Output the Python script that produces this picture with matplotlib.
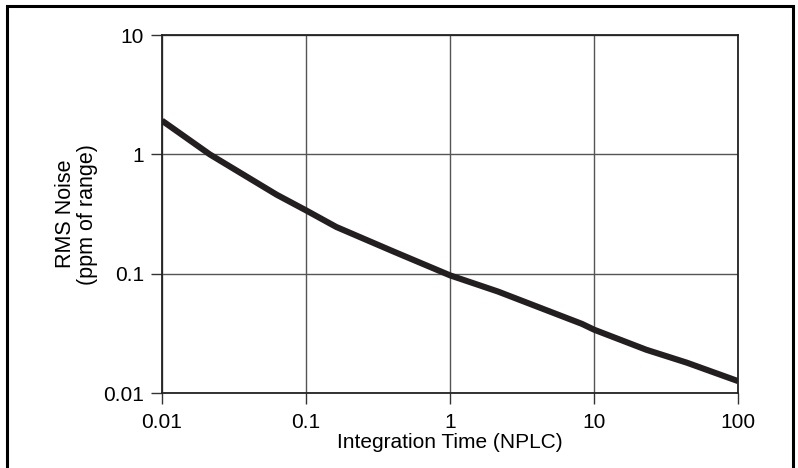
import matplotlib
matplotlib.use("Agg")
import matplotlib.pyplot as plt
from matplotlib.patches import Rectangle

# Values (log-log)
nplc = [0.01, 0.0215, 0.0625, 0.1, 0.162, 0.398, 1, 2.15, 8.25, 10, 23, 44, 100]
noise = [1.92, 1.0, 0.46, 0.34, 0.247, 0.155, 0.097, 0.071, 0.038, 0.034,
         0.0231, 0.018, 0.0126]

x_ticks = [0.01, 0.1, 1, 10, 100]
x_labels = ["0.01", "0.1", "1", "10", "100"]
y_ticks = [0.01, 0.1, 1, 10]
y_labels = ["0.01", "0.1", "1", "10"]


def main():
    plt.rcParams["font.family"] = ["Liberation Sans", "DejaVu Sans"]

    fig = plt.figure(figsize=(7.98, 4.68), dpi=100)
    ax = fig.add_axes([0.203, 0.160, 0.722, 0.765])

    # Curve
    ax.plot(nplc, noise, color="#231f20", linewidth=4.4,
            solid_capstyle="butt", zorder=3)

    # Axes setup
    ax.set_xscale("log")
    ax.set_yscale("log")
    ax.set_xlim(0.01, 100)
    ax.set_ylim(0.01, 10)
    ax.set_xticks(x_ticks, x_labels)
    ax.set_yticks(y_ticks, y_labels)
    ax.minorticks_off()
    ax.tick_params(axis="both", direction="out", length=8, width=1,
                   color="#333333", labelsize=15, pad=5)
    ax.tick_params(axis="x", pad=6)
    ax.grid(True, color="#555555", linewidth=1)
    for s in ax.spines.values():
        s.set_color("#222222")
        s.set_linewidth(1.3)

    ax.set_xlabel("Integration Time (NPLC)", fontsize=15, labelpad=1)
    ax.set_ylabel("RMS Noise\n(ppm of range)", fontsize=15.5,
                  labelpad=4, linespacing=1.05)

    # Outer border box
    fig.patches.append(Rectangle((7 / 798, -0.01), 786 / 798, 1.0 - 6 / 468 + 0.01,
                                 transform=fig.transFigure, fill=False,
                                 edgecolor="black", linewidth=2.2))

    fig.savefig("out.png", dpi=100)


if __name__ == "__main__":
    main()
